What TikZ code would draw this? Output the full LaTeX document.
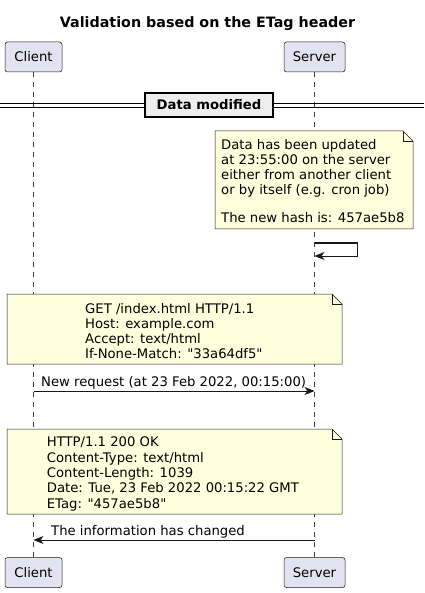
\documentclass[tikz,border=0pt]{standalone}
\usepackage{fontspec}
\setmainfont{DejaVu Sans}
\usepackage{tikz}
\usetikzlibrary{arrows.meta}
\definecolor{ink}{HTML}{181818}
\definecolor{partfill}{HTML}{E2E2F0}
\definecolor{notefill}{HTML}{FEFFDD}
\definecolor{divfill}{HTML}{EEEEEE}
\tikzset{
  participant/.style={draw=ink, fill=partfill, line width=0.5pt, rounded corners=2.5pt,
    minimum height=30pt, inner sep=0pt, font=\fontsize{13.2}{15}\selectfont},
  lifeline/.style={draw=ink!85, line width=0.5pt, dash pattern=on 5pt off 5pt},
  notebox/.style={draw=ink, fill=notefill, line width=0.5pt},
  notetext/.style={anchor=north west, inner sep=0pt, align=left, font=\fontsize{13.2}{15.3}\selectfont},
  msg/.style={draw=ink, line width=1pt, -{Stealth[length=10pt,width=8pt,inset=3pt]}},
  lab/.style={anchor=base west, inner sep=0pt, font=\fontsize{13.2}{15}\selectfont},
}
% note with a folded corner: x1,y1,x2,y2
\newcommand{\foldnote}[4]{%
  \draw[notebox] (#1,#2) -- (#3-10,#2) -- (#3,#2+10) -- (#3,#4) -- (#1,#4) -- cycle;
  \draw[notebox, fill=none] (#3-10,#2) -- (#3-10,#2+10) -- (#3,#2+10);
}

\begin{document}
\begin{tikzpicture}[x=1pt,y=-1pt]
\useasboundingbox (0,0) rectangle (424,593);

\node[anchor=base, font=\fontsize{14.3}{16}\selectfont\bfseries] (title) at (207.5,28) {Validation based on the ETag header};

% participants
\node[participant, minimum width=57pt] (client) at (33.5,57) {Client};
\node[participant, minimum width=61pt] (server) at (314.5,57) {Server};
\node[participant, minimum width=57pt] (clientbot) at (33.5,572.5) {Client};
\node[participant, minimum width=61pt] (serverbot) at (314.5,572.5) {Server};
\draw[lifeline] (client.south) -- (clientbot.north);
\draw[lifeline] (server.south) -- (serverbot.north);

% divider
\draw[black, line width=1pt] (0,103.5) -- (424,103.5) (0,107.5) -- (424,107.5);
\node[draw=black, fill=divfill, line width=1.5pt, minimum width=128pt, minimum height=24pt,
  inner sep=0pt, font=\fontsize{13.2}{15}\selectfont\bfseries] (divider) at (209,105) {Data modified};

% change on the server
\foldnote{215}{131}{413}{229}
\node[notetext] (update) at (221,138.8) {Data has been updated\\
at 23:55:00 on the server\\
either from another client\\
or by itself (e.g. cron job)\\[-3pt]
\\
The new hash is: 457ae5b8};
\coordinate (selfa) at (server |- 0,243);
\coordinate (selfb) at (server |- 0,256);
\draw[msg] (selfa) -- ++(43,0) |- (selfb);

% request
\foldnote{7}{294}{342}{364}
\node[notetext] (request) at (85,302.8) {GET /index.html HTTP/1.1\\
Host: example.com\\
Accept: text/html\\
If-None-Match: \textquotedbl 33a64df5\textquotedbl};
\coordinate (reqa) at (client |- 0,391);
\coordinate (reqb) at (server |- 0,391);
\draw[msg] (reqa) -- (reqb);
\node[lab] (reqlab) at (41,386) {New request (at 23 Feb 2022, 00:15:00)};

% response
\foldnote{7}{429}{342}{514}
\node[notetext] (response) at (46.7,436.8) {HTTP/1.1 200 OK\\
Content-Type: text/html\\
Content-Length: 1039\\
Date: Tue, 23 Feb 2022 00:15:22 GMT\\
ETag: \textquotedbl 457ae5b8\textquotedbl};
\coordinate (resa) at (server |- 0,540);
\coordinate (resb) at (client |- 0,540);
\draw[msg] (resa) -- (resb);
\node[lab] (reslab) at (51,535) {The information has changed};
\end{tikzpicture}
\end{document}
